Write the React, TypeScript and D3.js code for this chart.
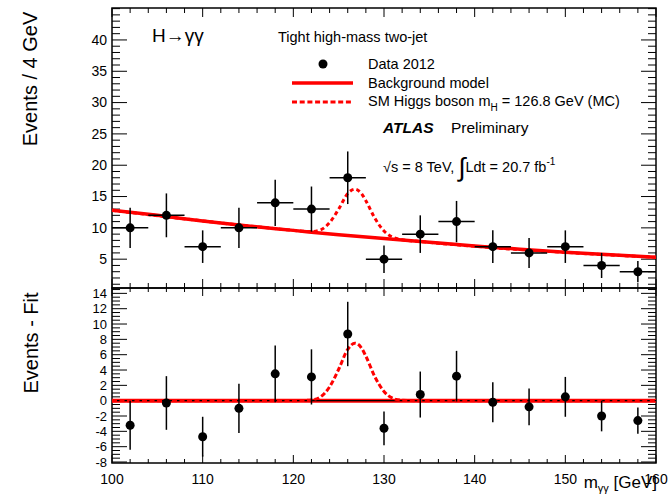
import { useEffect, useRef } from "react";
import * as d3 from "d3";

// bin centres (4 GeV bins) and counts
const massBins = [102, 106, 110, 114, 118, 122, 126, 130, 134, 138, 142, 146, 150, 154, 158];
const events = [10, 12, 7, 10, 14, 13, 18, 5, 9, 11, 7, 6, 7, 4, 3];
const eventErrors = [3.2, 3.5, 2.6, 3.2, 3.7, 3.6, 4.2, 2.2, 3.0, 3.3, 2.6, 2.4, 2.6, 2.0, 1.7];
const residuals = [-3.2, -0.3, -4.7, -1.0, 3.5, 3.1, 8.7, -3.6, 0.8, 3.2, -0.2, -0.8, 0.5, -2.0, -2.6];

// background model curve
const bgMass = [100, 105, 110, 115, 120, 125, 130, 135, 140, 145, 150, 155, 160];
const bgEvents = [12.8, 12.0, 11.1, 10.3, 9.6, 8.9, 8.3, 7.7, 7.1, 6.6, 6.1, 5.7, 5.3];

// SM Higgs excess above background
const sigMass = [100, 118, 120, 121, 122, 123, 124, 125, 126, 126.8, 127.5, 128, 129, 130, 131, 132, 134, 160];
const sigExcess = [0, 0, 0, 0.02, 0.1, 0.5, 1.8, 4.1, 6.7, 7.5, 6.9, 5.8, 3.1, 1.2, 0.3, 0.05, 0, 0];

const topTicks = [5, 10, 15, 20, 25, 30, 35, 40];
const bottomTicks = [-8, -6, -4, -2, 0, 2, 4, 6, 8, 10, 12, 14];
const massTicks = [100, 110, 120, 130, 140, 150, 160];

const FONT = "'Liberation Sans', Arial, Helvetica, sans-serif";

const App = () => {
  const svgRef = useRef<SVGSVGElement>(null);

  useEffect(() => {
    if (!svgRef.current) return;
    const svg = d3.select(svgRef.current);
    svg.selectAll("*").remove();

    const left = 112;
    const right = 656;
    const top = 8;
    const mid = 288;
    const bottom = 463;

    const x = d3.scaleLinear().domain([100, 160]).range([left, right]);
    const yTop = d3.scaleLinear().domain([0.4, 45.1]).range([mid, top]);
    const yBot = d3.scaleLinear().domain([-8.13, 14.7]).range([bottom, mid]);
    const bgAt = d3.scaleLinear().domain(bgMass).range(bgEvents);

    const g = svg.append("g").attr("font-family", FONT);

    // frames and ticks (ROOT style, ticks inside on all four sides)
    const drawTicks = (
      y: d3.ScaleLinear<number, number>,
      y0: number,
      y1: number,
      minorStep: number,
      majors: number[],
      yMajLen: number,
      yMinLen: number,
      xMajLen: number,
      xMinLen: number
    ) => {
      const [d0, d1] = y.domain();
      const minors = d3.range(Math.ceil(d0 / minorStep) * minorStep, d1 + 1e-9, minorStep);
      const ticks = g.append("g").attr("stroke", "#000").attr("stroke-width", 1);
      minors.forEach((v) => {
        const isMajor = majors.some((m) => Math.abs(m - v) < 1e-6);
        const len = isMajor ? yMajLen : yMinLen;
        ticks.append("line").attr("x1", left).attr("x2", left + len).attr("y1", y(v)).attr("y2", y(v));
        ticks.append("line").attr("x1", right).attr("x2", right - len).attr("y1", y(v)).attr("y2", y(v));
      });
      d3.range(100, 160.001, 2).forEach((v) => {
        const len = v % 10 === 0 ? xMajLen : xMinLen;
        ticks.append("line").attr("x1", x(v)).attr("x2", x(v)).attr("y1", y1).attr("y2", y1 - len);
        ticks.append("line").attr("x1", x(v)).attr("x2", x(v)).attr("y1", y0).attr("y2", y0 + len);
      });
      g.append("rect")
        .attr("x", left)
        .attr("y", y0)
        .attr("width", right - left)
        .attr("height", y1 - y0)
        .attr("fill", "none")
        .attr("stroke", "#000")
        .attr("stroke-width", 1.5);
    };

    drawTicks(yTop, top, mid, 1, topTicks, 15, 8, 9, 5);
    drawTicks(yBot, mid, bottom, 0.5, bottomTicks, 15, 8, 8, 4);

    // tick labels
    g.selectAll("text.ytop")
      .data(topTicks)
      .join("text")
      .attr("x", left - 5)
      .attr("y", (d) => yTop(d))
      .attr("dy", "0.35em")
      .attr("text-anchor", "end")
      .attr("font-size", 14)
      .text((d) => d);

    g.selectAll("text.ybot")
      .data(bottomTicks)
      .join("text")
      .attr("x", left - 5)
      .attr("y", (d) => yBot(d))
      .attr("dy", "0.35em")
      .attr("text-anchor", "end")
      .attr("font-size", 13)
      .text((d) => d);

    g.selectAll("text.xl")
      .data(massTicks)
      .join("text")
      .attr("x", (d) => x(d))
      .attr("y", 484)
      .attr("text-anchor", "middle")
      .attr("font-size", 14)
      .text((d) => d);

    // axis titles
    g.append("text")
      .attr("transform", `translate(37,79) rotate(-90)`)
      .attr("text-anchor", "middle")
      .attr("font-size", 20)
      .text("Events / 4 GeV");
    g.append("text")
      .attr("transform", `translate(38,343) rotate(-90)`)
      .attr("text-anchor", "middle")
      .attr("font-size", 20)
      .text("Events - Fit");

    const xt = g.append("text").attr("x", right + 1).attr("y", 488).attr("text-anchor", "end").attr("font-size", 17);
    xt.append("tspan").text("m");
    xt.append("tspan").attr("font-size", 11).attr("dy", 4).text("γγ");
    xt.append("tspan").attr("dy", -4).text(" [GeV]");

    // top panel curves
    const clipId = "clip-top";
    svg.append("defs").append("clipPath").attr("id", clipId)
      .append("rect").attr("x", left).attr("y", top).attr("width", right - left).attr("height", mid - top);

    const lineTop = d3.line<number>().x((d) => x(d)).curve(d3.curveMonotoneX);
    g.append("path")
      .attr("d", lineTop.y((d) => yTop(bgAt(d)))(bgMass))
      .attr("fill", "none")
      .attr("stroke", "#ff0000")
      .attr("stroke-width", 3.5)
      .attr("clip-path", `url(#${clipId})`);

    const sigTop = d3
      .line<number>()
      .x((d) => x(sigMass[d]))
      .y((d) => yTop(bgAt(sigMass[d]) + sigExcess[d]))
      .curve(d3.curveMonotoneX);
    g.append("path")
      .attr("d", sigTop(d3.range(sigMass.length)))
      .attr("fill", "none")
      .attr("stroke", "#ff0000")
      .attr("stroke-width", 3)
      .attr("stroke-dasharray", "4,3");

    // top panel data
    const pts = massBins.map((m, i) => ({ m, v: events[i], e: eventErrors[i], r: residuals[i] }));
    const dataTop = g.append("g").attr("stroke", "#000").attr("stroke-width", 1.5);
    pts.forEach((p) => {
      dataTop.append("line").attr("x1", x(p.m - 2)).attr("x2", x(p.m + 2)).attr("y1", yTop(p.v)).attr("y2", yTop(p.v));
      dataTop.append("line").attr("x1", x(p.m)).attr("x2", x(p.m))
        .attr("y1", yTop(p.v + p.e)).attr("y2", Math.min(mid, yTop(p.v - p.e)));
    });
    g.selectAll("circle.top")
      .data(pts)
      .join("circle")
      .attr("cx", (d) => x(d.m))
      .attr("cy", (d) => yTop(d.v))
      .attr("r", 4.5)
      .attr("fill", "#000");

    // bottom panel: fit at zero, signal shape, residuals
    g.append("line")
      .attr("x1", left).attr("x2", right).attr("y1", yBot(0)).attr("y2", yBot(0))
      .attr("stroke", "#ff0000").attr("stroke-width", 4);
    g.append("line")
      .attr("x1", left).attr("x2", right).attr("y1", yBot(0)).attr("y2", yBot(0))
      .attr("stroke", "#000").attr("stroke-width", 1.2);
    const sigBot = d3
      .line<number>()
      .x((d) => x(sigMass[d]))
      .y((d) => yBot(sigExcess[d]))
      .curve(d3.curveMonotoneX);
    g.append("path")
      .attr("d", sigBot(d3.range(sigMass.length)))
      .attr("fill", "none")
      .attr("stroke", "#ff0000")
      .attr("stroke-width", 3)
      .attr("stroke-dasharray", "5,2.5");

    const dataBot = g.append("g").attr("stroke", "#000").attr("stroke-width", 1.5);
    pts.forEach((p) => {
      dataBot.append("line").attr("x1", x(p.m)).attr("x2", x(p.m))
        .attr("y1", yBot(p.r + p.e)).attr("y2", Math.min(bottom, yBot(p.r - p.e)));
    });
    g.selectAll("circle.bot")
      .data(pts)
      .join("circle")
      .attr("cx", (d) => x(d.m))
      .attr("cy", (d) => yBot(d.r))
      .attr("r", 4.5)
      .attr("fill", "#000");

    // legend and labels
    g.append("text").attr("x", 152).attr("y", 42).attr("font-size", 19).text("H→γγ");
    g.append("text").attr("x", 278).attr("y", 42).attr("font-size", 14.5).text("Tight high-mass two-jet");

    g.append("circle").attr("cx", 323).attr("cy", 64).attr("r", 4.5).attr("fill", "#000");
    g.append("text").attr("x", 368).attr("y", 69).attr("font-size", 14.5).text("Data 2012");

    g.append("line").attr("x1", 292).attr("x2", 353).attr("y1", 83).attr("y2", 83)
      .attr("stroke", "#ff0000").attr("stroke-width", 3.5);
    g.append("text").attr("x", 368).attr("y", 88).attr("font-size", 14.5).text("Background model");

    g.append("line").attr("x1", 292).attr("x2", 353).attr("y1", 102).attr("y2", 102)
      .attr("stroke", "#ff0000").attr("stroke-width", 3).attr("stroke-dasharray", "5,2.7");
    const sm = g.append("text").attr("x", 368).attr("y", 106).attr("font-size", 14.5);
    sm.append("tspan").text("SM Higgs boson m");
    sm.append("tspan").attr("font-size", 10).attr("dy", 5).text("H");
    sm.append("tspan").attr("dy", -5).text(" = 126.8 GeV (MC)");

    g.append("text").attr("x", 383).attr("y", 133).attr("font-size", 15.5)
      .attr("font-weight", "bold").attr("font-style", "italic").text("ATLAS");
    g.append("text").attr("x", 451).attr("y", 133).attr("font-size", 15.5).text("Preliminary");

    const lumi = g.append("text").attr("x", 383).attr("y", 172).attr("font-size", 14.5);
    lumi.append("tspan").text("√s = 8 TeV, ");
    lumi.append("tspan").attr("font-size", 26).attr("dy", 4).text("∫");
    lumi.append("tspan").attr("dy", -4).text("Ldt = 20.7 fb");
    lumi.append("tspan").attr("font-size", 10).attr("dy", -7).text("-1");
  }, []);

  return (
    <svg
      ref={svgRef}
      width={669}
      height={494}
      style={{ position: "absolute", left: 0, top: 0, background: "#fff" }}
    />
  );
};

export default App;
